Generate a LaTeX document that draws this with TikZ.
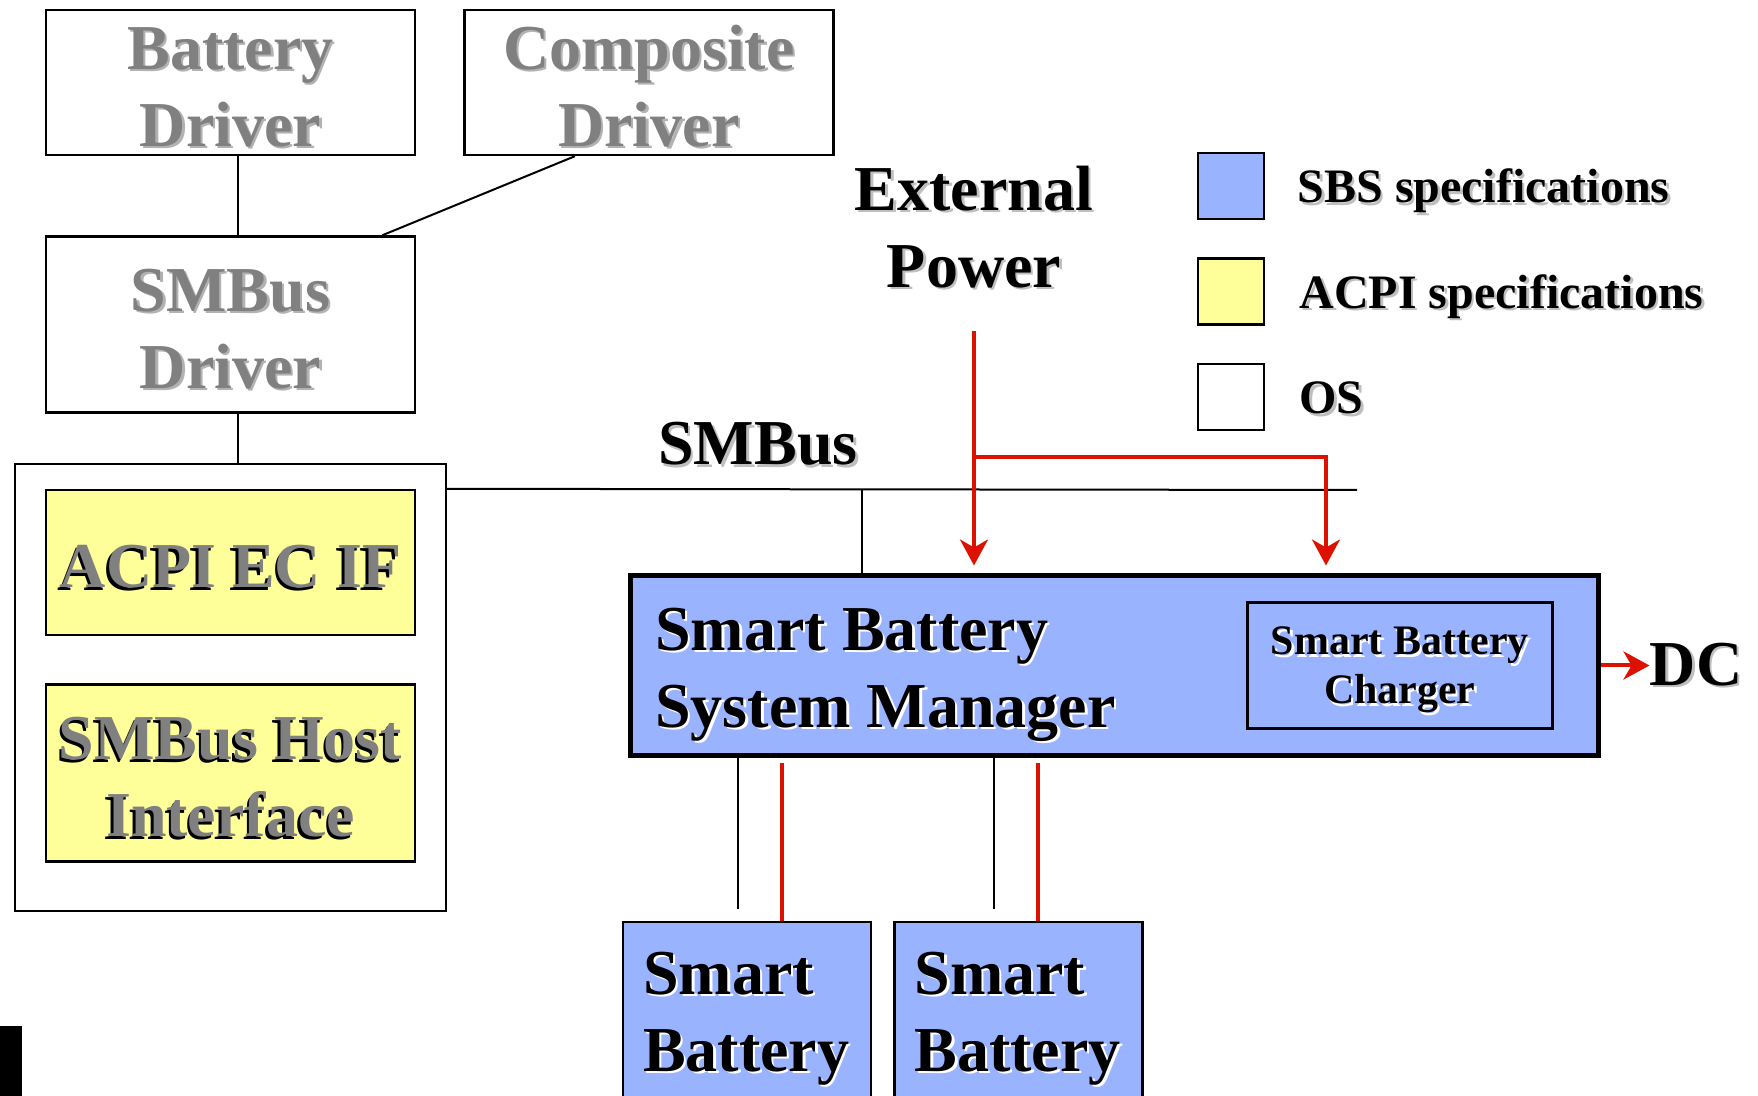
\documentclass[tikz,border=0pt]{standalone}
\usepackage{fontspec}
\setmainfont{Liberation Serif}
\usepackage{xcolor}
\usepackage{tikz}
\usetikzlibrary{calc, positioning, arrows.meta}

\definecolor{sbsBlue}{RGB}{153,179,255}
\definecolor{acpiYellow}{RGB}{255,255,153}
\definecolor{pwrRed}{RGB}{221,17,0}
\definecolor{osGray}{RGB}{128,128,128}

\newcommand{\bigtxtfont}{\fontsize{32pt}{38.5pt}\selectfont\bfseries}
\newcommand{\legendfont}{\fontsize{24pt}{28pt}\selectfont\bfseries}
\newcommand{\chargerfont}{\fontsize{21pt}{24.5pt}\selectfont\bfseries}
% text with a drop shadow: [x offset]{shadow colour}{text}
\newcommand{\shd}[3][1.2pt]{\leavevmode\rlap{\kern#1\raisebox{-1.2pt}{\color{#2}#3}}#3}

\tikzset{
    osbox/.style={rectangle, draw=black, line width=1.2pt, fill=white, align=flush center, text=osGray, minimum width=184.5pt, text width=184.5pt, minimum height=72.5pt, inner sep=0pt, font=\bigtxtfont, execute at begin node={\rule{0pt}{27pt}}},
    acpibox/.style={osbox, fill=acpiYellow},
    sbsbox/.style={rectangle, draw=black, line width=1.2pt, fill=sbsBlue, text=black, inner sep=0pt, font=\bigtxtfont},
    battery/.style={sbsbox, minimum width=124pt, minimum height=91pt, text width=104pt, align=flush left, inner xsep=10pt, execute at begin node={\rule{0pt}{28pt}}},
    plaintxt/.style={font=\bigtxtfont, align=center, inner sep=0pt},
    legbox/.style={rectangle, draw=black, line width=1.2pt, minimum size=33pt, inner sep=0pt},
    legtxt/.style={font=\legendfont, anchor=base west, inner sep=0pt},
    conn/.style={line width=1pt},
    power/.style={draw=pwrRed, line width=2pt},
    powerarrow/.style={power, -{Stealth[length=13pt, width=14pt, inset=4pt]}}
}

\begin{document}
\begin{tikzpicture}[x=0.5pt, y=-0.5pt]
    \useasboundingbox (0,0) rectangle (1758,1096);

    % OS drivers
    \node[osbox] (BatDrv) at (230.5,82.5) {\shd{black!30}{Battery}\\\shd{black!30}{Driver}};
    \node[osbox, right=23.5pt of BatDrv] (CompDrv) {\shd{black!30}{Composite}\\\shd{black!30}{Driver}};
    \node[osbox, below=39.5pt of BatDrv, minimum height=88pt] (SMBusDrv) {\shd{black!30}{SMBus}\\\shd{black!30}{Driver}};

    % Embedded controller
    \node[osbox, below=24.5pt of SMBusDrv, minimum width=215.5pt, text width=215.5pt, minimum height=223.5pt] (EC) {};
    \node[acpibox] (ACPI) at (230.5,562.5) {\shd[-1.2pt]{black}{ACPI EC IF}};
    \node[acpibox, below=23.5pt of ACPI, minimum height=88.5pt] (Host) {\shd[-1.2pt]{black}{SMBus Host}\\\shd[-1.2pt]{black}{Interface}};

    % Legend
    \node[legbox, fill=sbsBlue] (LegSBS) at (1231,186) {};
    \node[legbox, fill=acpiYellow, below=18.5pt of LegSBS] (LegACPI) {};
    \node[legbox, fill=white, below=18.5pt of LegACPI] (LegOS) {};
    \node[legtxt] (LegSBStxt) at ($(LegSBS.east)+(32,17)$) {\shd{black!25}{SBS specifications}};
    \node[legtxt] (LegACPItxt) at ($(LegACPI.east)+(34,17)$) {\shd{black!25}{ACPI specifications}};
    \node[legtxt] (LegOStxt) at ($(LegOS.east)+(34,17)$) {\shd{black!25}{OS}};

    % Labels
    \node[plaintxt] (ExtPwr) at (974,228) {\shd{black!25}{External}\\\shd{black!25}{Power}};
    \node[plaintxt, anchor=base] (BusLbl) at (758,465) {\shd{black!25}{SMBus}};

    % Smart battery system
    \node[sbsbox, line width=2.5pt, minimum width=484pt, minimum height=89.5pt] (SBSM) at (1114,665.5) {};
    \node[plaintxt, align=left, anchor=west] (SBSMlbl) at (655,676) {\shd{white}{Smart Battery}\\\shd{white}{System Manager}};
    \node[sbsbox, font=\chargerfont, align=flush center, minimum width=152.5pt, text width=152.5pt, minimum height=63pt, anchor=east, execute at begin node={\rule{0pt}{19.5pt}}] (Charger) at ([xshift=-23.5pt]SBSM.east) {\shd{white}{Smart Battery}\\\shd{white}{Charger}};
    \node[plaintxt, right=24.5pt of SBSM.east] (DC) {\shd{black!25}{DC}};

    \node[battery, anchor=north west] (Bat1) at (622,921) {\shd{white}{Smart}\\\shd{white}{Battery}};
    \node[battery, right=10.5pt of Bat1] (Bat2) {\shd{white}{Smart}\\\shd{white}{Battery}};

    % Connections
    \draw[conn] ([xshift=3.5pt]BatDrv.south) -- ([xshift=3.5pt]SMBusDrv.north);
    \draw[conn] ([xshift=-37pt]CompDrv.south) -- ([xshift=76pt]SMBusDrv.north);
    \draw[conn] ([xshift=3.5pt]SMBusDrv.south) -- ([xshift=3.5pt]EC.north);

    \coordinate (BusEnd) at (1357,490);
    \coordinate (BusTap) at (862,490);
    \draw[conn] (EC.east |- ACPI.north) -- (BusEnd);
    \draw[conn] (BusTap) -- (BusTap |- SBSM.north);

    \coordinate (PwrSplit) at (974,457);
    \coordinate (ChgIn) at (1326,457);
    \draw[powerarrow] ($(ExtPwr.south)+(0,40)$) -- ($(ExtPwr.south |- SBSM.north)+(0,-8)$);
    \draw[powerarrow] (PwrSplit) -| ($(ChgIn |- SBSM.north)+(0,-8)$);
    \draw[powerarrow] (SBSM.east) -- (DC.west);

    \coordinate (Bus1) at (738,0);
    \coordinate (Pwr1) at (782,0);
    \coordinate (Bus2) at (994,0);
    \coordinate (Pwr2) at (1038,0);
    \draw[conn] (SBSM.south -| Bus1) -- ($(Bat1.north -| Bus1)+(0,-12)$);
    \draw[power] ($(SBSM.south -| Pwr1)+(0,5)$) -- (Bat1.north -| Pwr1);
    \draw[conn] (SBSM.south -| Bus2) -- ($(Bat2.north -| Bus2)+(0,-12)$);
    \draw[power] ($(SBSM.south -| Pwr2)+(0,5)$) -- (Bat2.north -| Pwr2);

    % corner fragment
    \fill[black] (0,1026) rectangle (22,1096);
\end{tikzpicture}
\end{document}
